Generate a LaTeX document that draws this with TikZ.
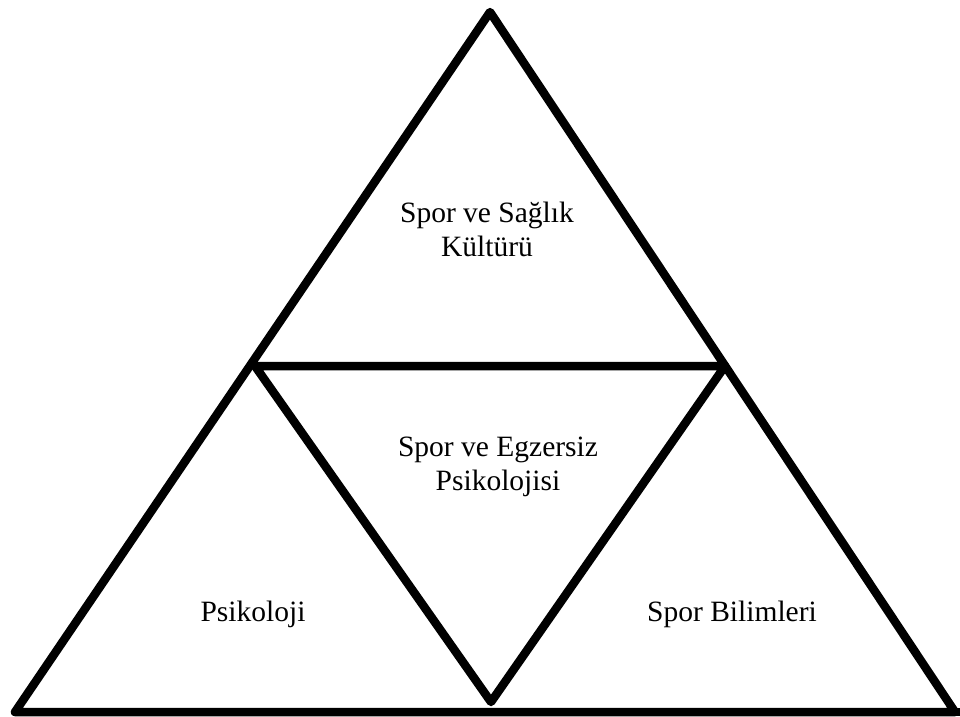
\documentclass[tikz,border=0pt]{standalone}
\usepackage{fontspec}
\setmainfont{Liberation Serif}
\usepackage{tikz}
\usetikzlibrary{positioning}

\begin{document}
\begin{tikzpicture}[
  x=1pt, y=-1pt,
  edge/.style={draw, line width=8.5pt, line join=round},
  field/.style={anchor=base, align=center, inner sep=0pt, font=\fontsize{29.5}{34}\selectfont}
]
  \useasboundingbox (0,0) rectangle (960,716);

  % Corners
  \coordinate (top) at (490,12);
  \coordinate (bl) at (15,712);
  \coordinate (br) at (955,712);
  \coordinate (ml) at (255,366);
  \coordinate (mr) at (725,366);
  \coordinate (mb) at (491,702);

  % Triangles
  \path[edge] (top) -- (br) -- (bl) -- cycle;
  \path[edge] (ml) -- (mr) -- (mb) -- cycle;
  \path[edge] (br) -- (975,712);

  % Labels (base = last line)
  \node[field] (saglik) at (487,256) {Spor ve Sağlık\\Kültürü};
  \node[field] (egz) at (498,490) {Spor ve Egzersiz\\Psikolojisi};
  \node[field] (psi) at (253,621) {Psikoloji};
  \node[field] (bil) at (732,621) {Spor Bilimleri};
\end{tikzpicture}
\end{document}
